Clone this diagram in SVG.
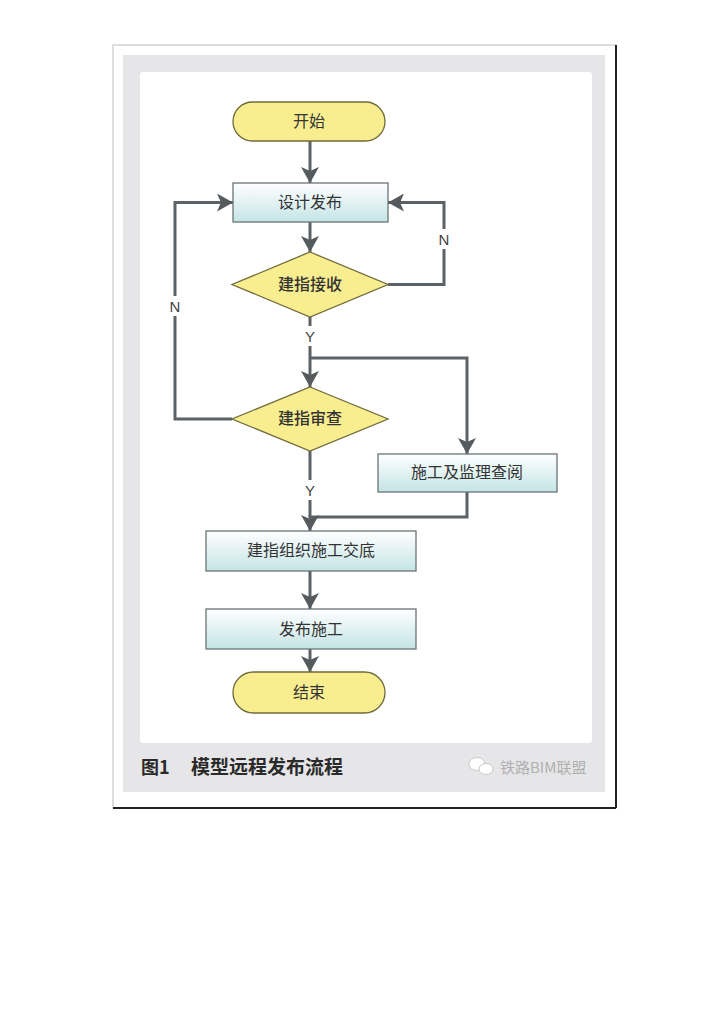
<svg xmlns="http://www.w3.org/2000/svg" width="724" height="1024" viewBox="0 0 724 1024">
<defs>
<linearGradient id="boxg" x1="0" y1="0" x2="0" y2="1">
<stop offset="0" stop-color="#ffffff"/>
<stop offset="1" stop-color="#c4e4e6"/>
</linearGradient>
<marker id="arr" viewBox="0 0 16 18" refX="16" refY="9" markerWidth="16" markerHeight="18" markerUnits="userSpaceOnUse" orient="auto">
<path d="M0,0 L16,9 L0,18 L4,9 Z" fill="#555a5e"/>
</marker>
</defs>
<style>
.term{fill:#f8ee90;stroke:#6f6a3a;stroke-width:1.3}
.box{fill:url(#boxg);stroke:#6b7475;stroke-width:1.3}
.dia{fill:#f8ee90;stroke:#6f6a3a;stroke-width:1.3}
.lbl{font-family:"Noto Sans CJK SC","Noto Sans",sans-serif;font-size:16px;fill:#333;text-anchor:middle;dominant-baseline:central}
.bd{font-weight:500}
.yn{font-family:"Liberation Sans",Arial,sans-serif;font-size:15px;fill:#444;text-anchor:middle;dominant-baseline:central}
.ln{fill:none;stroke:#5c6165;stroke-width:3}
.la{fill:none;stroke:#5c6165;stroke-width:3;marker-end:url(#arr)}
</style>
<rect width="724" height="1024" fill="#ffffff"/>
<!-- outer frame -->
<rect x="113" y="45" width="503" height="763" fill="#ffffff" stroke="#bdbdbd" stroke-width="1"/>
<line x1="616" y1="45" x2="616" y2="808" stroke="#222" stroke-width="2"/>
<line x1="113" y1="808" x2="616" y2="808" stroke="#222" stroke-width="2"/>
<rect x="123" y="55" width="482" height="737" fill="#e6e5e7"/>
<rect x="140" y="72" width="452" height="671" rx="3" fill="#ffffff"/>

<g id="connectors">
<path class="la" d="M310,141 V183"/>
<path class="la" d="M310,222 V252"/>
<path class="la" d="M388,284.5 H444 V202.5 H388"/>
<path class="la" d="M232,419 H175 V202.5 H233"/>
<path class="ln" d="M310,317 V350"/>
<path class="la" d="M310,350 V387"/>
<path class="la" d="M310,358 H467 V454"/>
<path class="ln" d="M310,451 V517"/>
<path class="la" d="M467,492 V517 H310 V531"/>
<path class="la" d="M310,571 V609"/>
<path class="la" d="M310,649 V672"/>
<!-- label gaps -->
<rect x="436" y="229" width="16" height="20" fill="#ffffff"/>
<rect x="167" y="296" width="16" height="20" fill="#ffffff"/>
<rect x="302" y="326" width="16" height="20" fill="#ffffff"/>
<rect x="302" y="480" width="16" height="20" fill="#ffffff"/>
<text class="yn" x="444" y="239">N</text>
<text class="yn" x="175" y="306">N</text>
<text class="yn" x="310" y="336">Y</text>
<text class="yn" x="310" y="490">Y</text>
</g>

<g id="start">
<rect class="term" x="233" y="102" width="152" height="39" rx="19.5"/>
<text class="lbl" x="309" y="120">开始</text>
</g>
<g id="design">
<rect class="box" x="233" y="183" width="155" height="39"/>
<text class="lbl" x="310" y="201">设计发布</text>
</g>
<g id="receive">
<polygon class="dia" points="310,252 388,284.5 310,317 232,284.5"/>
<text class="lbl bd" x="310" y="283">建指接收</text>
</g>
<g id="review">
<polygon class="dia" points="310,387 388,419 310,451 232,419"/>
<text class="lbl bd" x="310" y="417">建指审查</text>
</g>
<g id="supervise">
<rect class="box" x="378" y="454" width="179" height="38"/>
<text class="lbl" x="467" y="471">施工及监理查阅</text>
</g>
<g id="handover">
<rect class="box" x="206" y="531" width="210" height="40"/>
<text class="lbl" x="311" y="549">建指组织施工交底</text>
</g>
<g id="publish">
<rect class="box" x="206" y="609" width="210" height="40"/>
<text class="lbl" x="311" y="628">发布施工</text>
</g>
<g id="end">
<rect class="term" x="233" y="672" width="152" height="41" rx="20.5"/>
<text class="lbl" x="309" y="691">结束</text>
</g>

<g id="caption">
<text x="141" y="774" font-family="Noto Sans CJK SC,sans-serif" font-size="18" font-weight="bold" fill="#2a2a2a">图1</text>
<text x="191" y="774" font-family="Noto Sans CJK SC,sans-serif" font-size="19" font-weight="bold" fill="#2a2a2a">模型远程发布流程</text>
<ellipse cx="477" cy="764" rx="8" ry="6.5" fill="#ffffff" stroke="#c9c9c9" stroke-width="1"/>
<ellipse cx="486" cy="769" rx="7" ry="5.5" fill="#ffffff" stroke="#c9c9c9" stroke-width="1"/>
<text x="500" y="773" font-family="Noto Sans CJK SC,sans-serif" font-size="15" fill="#b0b0b0">铁路BIM联盟</text>
</g>
</svg>
